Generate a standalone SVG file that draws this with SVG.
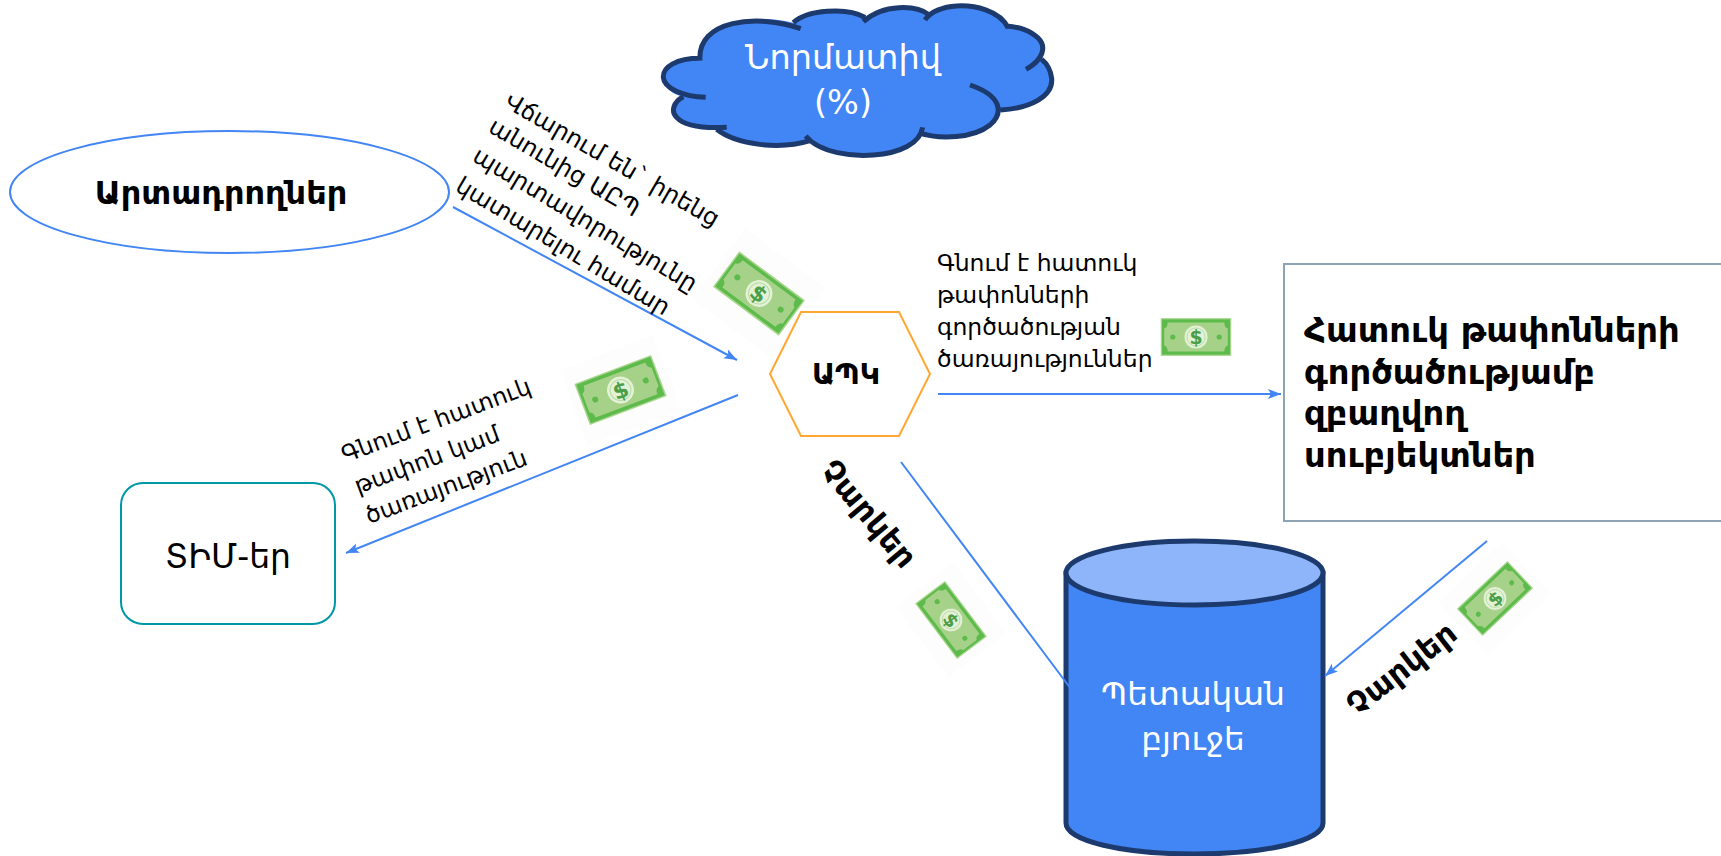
<svg xmlns="http://www.w3.org/2000/svg" width="1721" height="856" viewBox="0 0 1721 856">
<style>
text{font-family:"DejaVu Sans","Noto Sans",sans-serif;fill:#000}
.b{font-weight:700}
.w{fill:#fff}
.m{text-anchor:middle}
.conn{fill:none;stroke:#4285f4;stroke-width:2;marker-end:url(#arr)}
.cl{fill:none;stroke:#1c3a6e;stroke-width:15;stroke-linecap:butt}
</style>
<defs>
<marker id="arr" markerUnits="userSpaceOnUse" markerWidth="14" markerHeight="12" refX="13" refY="5" orient="auto"><path d="M0,0L13,5L0,10L3,5Z" fill="#4285f4"/></marker>
<g id="bill">
<rect x="-41" y="-22" width="82" height="44" fill="#a9d68e"/>
<rect x="-39.500" y="-20.500" width="79" height="41" fill="#5cbb4b"/>
<path d="M-33,-17H33Q33,-11 37,-10V10Q33,11 33,17H-33Q-33,11 -37,10V-10Q-33,-11 -33,-17Z" fill="#a6d188"/>
<circle cx="-27" cy="0" r="3" fill="#5cbb4b"/><circle cx="27" cy="0" r="3" fill="#5cbb4b"/>
<circle r="14" fill="#e3f1d6" stroke="#a6d188"/>
<circle r="10.500" fill="none" stroke="#b5dba0"/>
<text y="8" class="m b" font-size="22" style="fill:#4a9f48">$</text>
</g>
</defs>
<rect width="1721" height="856" fill="#fff"/>

<g id="money">
<rect x="-50" y="-44" width="100" height="88" fill="#fdfdfd" transform="translate(759,293.500) rotate(36.700)"/>
<use href="#bill" transform="translate(759,293.500) rotate(36.700)"/>
<rect x="-50" y="-40" width="100" height="80" fill="#fdfdfd" transform="translate(620.500,390) rotate(-20.700)"/>
<use href="#bill" transform="translate(620.500,390) rotate(-20.700)"/>
<use href="#bill" transform="translate(1196,337) scale(.86)"/>
<rect x="-44" y="-36" width="88" height="72" fill="#fdfdfd" transform="translate(951,620) rotate(53)"/>
<use href="#bill" transform="translate(951,620) rotate(53) scale(.85)"/>
<rect x="-44" y="-36" width="88" height="72" fill="#fdfdfd" transform="translate(1495,598.500) rotate(-43.400)"/>
<use href="#bill" transform="translate(1495,598.500) rotate(-43.400) scale(.85)"/>
</g>

<g id="cloud">
<g transform="translate(640,0) scale(.33333)">
<path fill="#4285f4" d="M460,68C500,30 620,20 672,55C730,10 830,15 862,50C870,35 910,20 950,18C1000,15 1080,30 1105,80C1140,82 1170,90 1195,115C1220,140 1210,175 1205,178C1220,190 1232,210 1235,235C1240,290 1170,325 1082,330C1075,350 1050,375 1050,375C1000,415 900,420 842,398C820,440 780,460 700,465C640,470 540,460 505,420C420,450 290,435 235,388C200,385 135,380 110,352C92,335 100,305 130,290C100,285 72,265 70,232C68,200 110,175 180,175C170,60 350,40 460,68Z"/>
<path class="cl" d="M482,86C350,40 170,60 180,182M180,175C110,175 68,200 70,232C72,265 130,290 197,292M130,290C100,305 92,335 110,352C135,380 200,385 260,382M230,388C290,435 420,450 510,422M497,408C540,460 640,470 700,465C780,460 840,430 848,382M835,398C900,420 1000,415 1050,375C1095,335 1080,285 990,255M1082,330C1170,325 1240,290 1235,235C1232,210 1220,190 1205,178M1158,208C1210,180 1220,140 1195,115C1170,90 1140,82 1100,78M1105,85C1080,30 1000,15 950,18C910,20 870,35 855,60M868,45C830,15 730,10 670,65M675,52C620,20 500,30 460,68"/>
</g>
<text x="843" y="69" class="w m" font-size="33.500">Նորմատիվ</text>
<text x="843" y="114" class="w m" font-size="33.500">(%)</text>
</g>

<g id="producers">
<ellipse cx="229.500" cy="192" rx="219.500" ry="61" fill="#fff" stroke="#4285f4" stroke-width="2"/>
<text x="221" y="204" class="b m" font-size="32">Արտադրողներ</text>
</g>

<g id="apk">
<path d="M770,374L801,312H899L930,374L899,436H801Z" fill="#fff" stroke="#ffa733" stroke-width="2"/>
<text x="846" y="384" class="b m" font-size="28.500">ԱՊԿ</text>
</g>

<g id="tim">
<rect x="121" y="483" width="214" height="141" rx="22" fill="#fff" stroke="#0097a7" stroke-width="2"/>
<text x="228" y="568" class="m" font-size="33">ՏԻՄ-եր</text>
</g>

<g id="waste-subjects">
<rect x="1284" y="264" width="460" height="257" fill="#fff" stroke="#8ea3b3" stroke-width="2"/>
<text class="b" font-size="33.800"><tspan x="1304" y="342">Հատուկ թափոնների</tspan><tspan x="1304" y="384">գործածությամբ</tspan><tspan x="1304" y="425">զբաղվող</tspan><tspan x="1304" y="467">սուբյեկտներ</tspan></text>
</g>

<g id="budget">
<path d="M1066,573V823C1066,841 1123,854 1194.500,854C1266,854 1323,841 1323,823V573Z" fill="#4285f4" stroke="#1c3a6e" stroke-width="5"/>
<ellipse cx="1194.500" cy="573" rx="128.500" ry="32" fill="#8eb5f9" stroke="#1c3a6e" stroke-width="5"/>
<text x="1193" y="705" class="w m" font-size="32.700">Պետական</text>
<text x="1193" y="750" class="w m" font-size="32.700">բյուջե</text>
</g>

<g id="connectors">
<path class="conn" d="M453,207L737,360"/>
<path class="conn" d="M738,395L346,553"/>
<path class="conn" d="M938,394H1281"/>
<path class="conn" d="M901,462L1083,705"/>
<path class="conn" d="M1487,541L1325,676"/>
</g>

<g id="labels">
<g font-size="23.700">
<text transform="translate(503,106) rotate(30)">Վճարում են` իրենց</text>
<text transform="translate(487,131) rotate(30.500)">անունից ԱԸՊ</text>
<text transform="translate(471,160) rotate(31)">պարտավորությունը</text>
<text transform="translate(454,190) rotate(31)">կատարելու համար</text>
</g>
<g font-size="23.500">
<text transform="translate(345,463) rotate(-20.500)">Գնում է հատուկ</text>
<text transform="translate(358,494) rotate(-20.500)">թափոն կամ</text>
<text transform="translate(369,524) rotate(-20.500)">ծառայություն</text>
<text x="937" y="271">Գնում է հատուկ</text>
<text x="937" y="303">թափոնների</text>
<text x="937" y="335">գործածության</text>
<text x="937" y="367">ծառայություններ</text>
</g>
<text transform="translate(819,471) rotate(50)" class="b" font-size="31">Չարկեր</text>
<text transform="translate(1357,717) rotate(-38)" class="b" font-size="31">Չարկեր</text>
</g>
</svg>
